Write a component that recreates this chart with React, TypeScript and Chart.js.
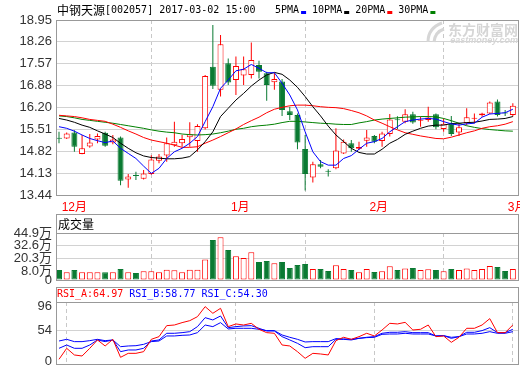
import React, { useEffect, useRef } from 'react';
import { Chart, registerables } from 'chart.js';

Chart.register(...registerables);

// ---------- data ----------
const stockName = '中钢天源';
const stockInfo = '[002057] 2017-03-02 15:00';
const maNames = ['5PMA', '10PMA', '20PMA', '30PMA'];
const maColors = ['#0000ff', '#000000', '#ff0000', '#008000'];

const openP = [15.23, 15.22, 15.41, 14.73, 14.97, 15.19, 15.40, 15.09, 15.25, 13.93, 14.05, 13.95, 14.10, 14.52, 14.68, 15.01, 15.07, 15.26, 15.14, 15.54, 17.48, 16.75, 17.59, 17.06, 17.20, 17.22, 17.53, 17.27, 16.99, 17.01, 16.08, 15.96, 14.89, 13.99, 14.41, 14.18, 14.28, 14.75, 15.07, 14.90, 15.15, 15.30, 15.14, 15.36, 15.80, 15.75, 15.98, 15.78, 15.80, 15.98, 15.52, 15.68, 15.41, 15.70, 15.84, 15.95, 16.01, 16.38, 16.03, 15.96];
const highP = [15.43, 15.41, 15.48, 15.33, 15.36, 15.38, 15.43, 15.33, 15.28, 14.10, 14.17, 14.23, 14.69, 14.73, 15.25, 15.75, 15.33, 15.73, 15.67, 17.22, 18.79, 18.48, 17.74, 17.80, 17.80, 18.24, 17.67, 17.32, 17.29, 17.09, 16.22, 16.01, 15.33, 14.49, 14.54, 14.25, 15.54, 15.19, 15.17, 15.12, 15.49, 15.33, 15.43, 15.99, 15.92, 16.14, 16.06, 15.91, 16.22, 16.01, 15.85, 15.93, 15.70, 16.17, 16.01, 16.03, 16.38, 16.45, 16.12, 16.33];
const lowP = [15.07, 15.20, 14.80, 14.72, 14.93, 15.07, 14.96, 15.04, 13.75, 13.67, 13.91, 13.93, 14.08, 14.44, 14.49, 14.96, 14.96, 14.96, 14.80, 15.50, 16.78, 16.54, 16.90, 16.59, 16.90, 17.11, 17.11, 16.41, 16.75, 15.93, 15.80, 14.88, 13.58, 13.83, 14.28, 14.02, 14.25, 14.73, 14.80, 14.86, 14.96, 15.07, 14.96, 15.28, 15.52, 15.70, 15.68, 15.59, 15.75, 15.51, 15.43, 15.30, 15.30, 15.64, 15.70, 15.90, 15.99, 15.91, 15.93, 15.91];
const closeP = [15.21, 15.38, 14.96, 14.91, 15.09, 15.30, 14.99, 15.19, 13.89, 14.02, 14.04, 14.12, 14.56, 14.65, 15.07, 15.12, 15.20, 15.35, 15.61, 17.19, 16.88, 18.19, 16.98, 17.50, 17.40, 17.69, 17.32, 16.90, 17.09, 16.12, 15.96, 15.09, 14.10, 14.41, 14.33, 14.17, 14.84, 15.12, 14.91, 14.95, 15.25, 15.12, 15.38, 15.82, 15.79, 15.98, 15.72, 15.80, 15.88, 15.57, 15.68, 15.36, 15.57, 15.89, 15.86, 16.01, 16.35, 15.96, 16.01, 16.25];

const ma5 = [15.59, 15.54, 15.45, 15.33, 15.22, 15.15, 15.09, 15.14, 14.91, 14.75, 14.59, 14.35, 14.12, 14.28, 14.59, 14.80, 14.91, 15.07, 15.28, 15.75, 16.22, 16.80, 17.06, 17.35, 17.40, 17.55, 17.43, 17.29, 17.29, 16.96, 16.59, 16.12, 15.43, 14.80, 14.49, 14.38, 14.38, 14.59, 14.68, 14.88, 15.07, 15.12, 15.22, 15.43, 15.59, 15.75, 15.80, 15.83, 15.85, 15.83, 15.75, 15.68, 15.64, 15.68, 15.70, 15.89, 15.99, 16.01, 16.03, 16.14];
const ma10 = [15.85, 15.80, 15.73, 15.64, 15.57, 15.46, 15.36, 15.25, 15.07, 14.91, 14.77, 14.67, 14.62, 14.60, 14.58, 14.58, 14.60, 14.65, 14.86, 15.12, 15.43, 15.91, 16.17, 16.43, 16.64, 16.87, 17.06, 17.22, 17.30, 17.24, 17.06, 16.83, 16.54, 16.22, 15.93, 15.61, 15.33, 15.12, 14.91, 14.78, 14.73, 14.73, 14.88, 15.07, 15.19, 15.35, 15.45, 15.54, 15.61, 15.64, 15.64, 15.69, 15.70, 15.72, 15.73, 15.77, 15.82, 15.83, 15.85, 15.91];
const ma20 = [15.95, 15.93, 15.91, 15.87, 15.82, 15.79, 15.76, 15.67, 15.57, 15.46, 15.36, 15.25, 15.17, 15.12, 15.07, 15.01, 14.94, 14.94, 14.96, 15.07, 15.17, 15.28, 15.40, 15.52, 15.66, 15.78, 15.89, 16.03, 16.14, 16.20, 16.25, 16.27, 16.27, 16.25, 16.22, 16.20, 16.19, 16.16, 16.10, 16.03, 15.93, 15.80, 15.70, 15.59, 15.49, 15.40, 15.35, 15.30, 15.26, 15.22, 15.21, 15.26, 15.33, 15.40, 15.46, 15.54, 15.59, 15.62, 15.67, 15.75];
const ma30 = [15.93, 15.91, 15.87, 15.82, 15.79, 15.76, 15.73, 15.70, 15.66, 15.62, 15.58, 15.54, 15.49, 15.45, 15.42, 15.40, 15.36, 15.34, 15.33, 15.34, 15.36, 15.40, 15.45, 15.51, 15.54, 15.59, 15.62, 15.64, 15.67, 15.72, 15.76, 15.76, 15.74, 15.72, 15.70, 15.69, 15.67, 15.66, 15.66, 15.71, 15.75, 15.80, 15.83, 15.85, 15.87, 15.89, 15.90, 15.91, 15.91, 15.90, 15.85, 15.78, 15.70, 15.62, 15.57, 15.53, 15.50, 15.48, 15.46, 15.45];

// volume in 万
const volume = [9.6, 7.3, 9.6, 7.3, 7.3, 7.3, 7.3, 7.3, 10.5, 7.3, 6.7, 8.3, 8.3, 7.3, 9.9, 9.2, 7.3, 9.9, 9.9, 19.7, 38.2, 40.8, 28.7, 22.6, 21.0, 26.4, 17.2, 18.1, 15.9, 17.2, 11.5, 14.3, 15.3, 10.5, 10.5, 8.6, 14.0, 10.5, 9.6, 7.3, 10.5, 7.6, 8.3, 13.1, 9.6, 11.1, 11.5, 9.6, 10.2, 9.6, 8.3, 10.5, 9.6, 11.1, 9.6, 10.5, 13.4, 12.4, 8.6, 10.5];

const rsiA = [4.1, 23.1, 11.6, 9.8, 23.1, 37.5, 27.1, 38.6, 7.5, 14.4, 14.4, 17.3, 38.6, 43.2, 62.2, 63.3, 67.4, 70.8, 77.7, 95.0, 83.5, 92.1, 60.5, 65.1, 63.3, 66.2, 55.9, 50.1, 49.0, 28.8, 27.1, 17.3, 5.8, 14.4, 13.3, 11.6, 36.3, 42.1, 38.6, 43.2, 49.0, 44.4, 54.7, 66.2, 65.1, 67.9, 54.7, 55.9, 63.3, 43.2, 44.4, 33.4, 42.1, 57.6, 57.6, 63.3, 74.3, 50.1, 50.1, 63.3];
const rsiB = [23.1, 28.8, 23.1, 23.1, 28.8, 37.5, 34.6, 37.5, 17.3, 20.2, 20.2, 23.1, 35.7, 37.5, 49.0, 49.0, 50.1, 51.8, 60.5, 76.0, 72.0, 78.9, 58.7, 60.5, 61.7, 62.2, 57.6, 53.0, 53.0, 43.2, 37.5, 31.7, 24.2, 25.9, 25.9, 25.9, 38.6, 38.6, 37.5, 40.3, 42.1, 43.2, 49.0, 50.7, 50.7, 51.8, 50.1, 50.1, 50.1, 44.4, 44.9, 40.3, 43.2, 50.7, 50.7, 53.6, 58.7, 50.1, 50.1, 55.9];
const rsiC = [35.7, 38.6, 34.6, 34.6, 36.3, 38.6, 36.3, 37.5, 25.9, 27.1, 27.6, 29.9, 34.6, 35.7, 44.4, 44.4, 45.5, 46.1, 50.1, 63.3, 60.5, 67.4, 56.5, 57.6, 57.6, 57.6, 55.9, 53.6, 53.6, 46.1, 42.1, 38.6, 34.0, 34.6, 34.6, 34.6, 39.8, 39.2, 38.6, 40.3, 41.5, 42.1, 47.2, 47.8, 47.8, 49.0, 47.8, 47.8, 47.8, 44.4, 44.9, 42.1, 43.2, 47.8, 47.8, 49.0, 51.8, 49.0, 49.0, 51.8];
const rsiNames = ['RSI_A', 'RSI_B', 'RSI_C'];
const rsiLatest = [64.97, 58.77, 54.30];
const rsiColors = ['#ff0000', '#0000ff', '#0000ff'];

const priceTicks = [13.44, 14.13, 14.82, 15.51, 16.20, 16.88, 17.57, 18.26, 18.95];
const volumeTicks = [0, 8.0, 20.3, 32.6, 44.9];
const volumeGridTicks = [20.3, 32.6];
const rsiTicks = [0, 54, 96];
const monthIndex = [1, 23, 41, 59];
const monthLabels = ['12月', '1月', '2月', '3月'];

// ---------- style ----------
const UP = '#ff0000';
const DOWN = '#0a7a32';
const FRAME = '#999999';
const GRID = '#d2d2d2';
const VGRID = '#c8c8c8';
const CLEAR = 'rgba(0,0,0,0)';
const X_MIN = -0.39;
const X_MAX = 59.8;
const AXIS_FONT = "'Liberation Sans', 'Noto Sans CJK SC', sans-serif";
const MONO_FONT = "'DejaVu Sans Mono', 'Liberation Mono', monospace";
const CJK_FONT = "'Noto Sans CJK SC', sans-serif";

const isUp = (i: number) => closeP[i] >= openP[i];

const zeroPad = (s: any) => {
  s.paddingTop = 0;
  s.paddingBottom = 0;
  s.paddingLeft = 0;
  s.paddingRight = 0;
};

const xScale = (showLabels: boolean) => ({
  type: 'linear',
  min: X_MIN,
  max: X_MAX,
  bounds: 'data',
  offset: false,
  afterBuildTicks: (s: any) => {
    s.ticks = monthIndex.map((v) => ({ value: v }));
  },
  afterFit: (s: any) => {
    s.height = showLabels ? 22 : 0;
    zeroPad(s);
  },
  grid: { color: VGRID, drawTicks: false, lineWidth: 1 },
  border: { display: false, dash: [4, 3] },
  ticks: {
    display: showLabels,
    autoSkip: false,
    maxRotation: 0,
    color: '#ff0000',
    font: { family: AXIS_FONT, size: 12 },
    padding: 5,
    align: 'start',
    labelOffset: -5,
    callback: (_v: any, i: number) => monthLabels[i],
  },
});

const yScale = (min: number, max: number, ticks: number[], fmt: (v: number) => string, gridColor: any) => ({
  type: 'linear',
  min,
  max,
  bounds: 'data',
  afterBuildTicks: (s: any) => {
    s.ticks = ticks.map((v) => ({ value: v }));
  },
  afterFit: (s: any) => {
    s.width = 56;
    zeroPad(s);
  },
  grid: { color: gridColor, drawTicks: false, lineWidth: 1 },
  border: { display: false },
  ticks: {
    autoSkip: false,
    padding: 4,
    color: '#333333',
    font: { family: AXIS_FONT, size: 13 },
    callback: (v: number) => fmt(v),
  },
});

const framePlugin = {
  id: 'frame',
  afterDraw(chart: any) {
    const { ctx, chartArea: a } = chart;
    ctx.save();
    ctx.strokeStyle = FRAME;
    ctx.lineWidth = 1;
    ctx.strokeRect(Math.round(a.left) + 0.5, Math.round(a.top) + 0.5, Math.round(a.right - a.left) - 1, Math.round(a.bottom - a.top));
    ctx.restore();
  },
};

const priceHeaderPlugin = {
  id: 'priceHeader',
  beforeDatasetsDraw(chart: any) {
    const { ctx, chartArea: a } = chart;
    ctx.save();
    ctx.fillStyle = '#d6d6d6';
    ctx.textBaseline = 'middle';
    ctx.textAlign = 'right';
    ctx.font = `bold 14px ${CJK_FONT}`;
    ctx.fillText('东方财富网', a.right - 1, 30);
    ctx.font = `italic bold 9px 'Liberation Sans', sans-serif`;
    ctx.fillText('eastmoney.com', a.right - 1, 41);
    ctx.strokeStyle = '#d6d6d6';
    ctx.lineWidth = 3;
    ctx.beginPath();
    ctx.moveTo(428, 42);
    ctx.quadraticCurveTo(428, 28, 442, 23);
    ctx.stroke();
    ctx.beginPath();
    ctx.moveTo(434, 42);
    ctx.quadraticCurveTo(435, 32, 444, 29);
    ctx.stroke();
    ctx.restore();
  },
  afterDraw(chart: any) {
    const { ctx } = chart;
    ctx.save();
    ctx.textBaseline = 'middle';
    ctx.textAlign = 'left';
    ctx.fillStyle = '#000';
    ctx.font = `12px ${CJK_FONT}`;
    let x = 57;
    ctx.fillText(stockName, x, 10);
    x += ctx.measureText(stockName).width;
    ctx.font = `10px ${MONO_FONT}`;
    ctx.fillText(stockInfo, x, 10);
    x = 275;
    maNames.forEach((n, k) => {
      ctx.fillStyle = '#000';
      ctx.fillText(n, x, 10);
      x += ctx.measureText(n).width + 2;
      ctx.fillStyle = maColors[k];
      ctx.fillRect(x, 11, 5, 3);
      x += 11;
    });
    ctx.restore();
  },
};

const volumeHeaderPlugin = {
  id: 'volumeHeader',
  afterDraw(chart: any) {
    const { ctx, chartArea: a } = chart;
    ctx.save();
    ctx.strokeStyle = FRAME;
    ctx.lineWidth = 1;
    ctx.strokeRect(Math.round(a.left) + 0.5, Math.round(a.top) - 18.5, Math.round(a.right - a.left) - 1, 19);
    ctx.fillStyle = '#000';
    ctx.textBaseline = 'middle';
    ctx.font = `12px ${CJK_FONT}`;
    ctx.fillText('成交量', a.left + 2, a.top - 9);
    ctx.restore();
  },
};

const rsiHeaderPlugin = {
  id: 'rsiHeader',
  afterDraw(chart: any) {
    const { ctx, chartArea: a } = chart;
    ctx.save();
    ctx.strokeStyle = FRAME;
    ctx.lineWidth = 1;
    ctx.strokeRect(Math.round(a.left) + 0.5, Math.round(a.top) - 14.5, Math.round(a.right - a.left) - 1, 15);
    ctx.textBaseline = 'middle';
    ctx.font = `10px ${MONO_FONT}`;
    let x = a.left + 1;
    rsiNames.forEach((n, k) => {
      const t = `${n}:${rsiLatest[k].toFixed(2)}`;
      ctx.fillStyle = rsiColors[k];
      ctx.fillText(t, x, a.top - 7.5);
      x += ctx.measureText(t).width + 6;
    });
    ctx.restore();
  },
};

const baseOptions = (padTop: number, padBottom: number) => ({
  responsive: false,
  animation: false,
  events: [],
  layout: { padding: { top: padTop, bottom: padBottom, left: 0, right: 1 } },
  plugins: { legend: { display: false }, tooltip: { enabled: false } },
});

export default function App() {
  const priceRef = useRef<HTMLCanvasElement>(null);
  const volRef = useRef<HTMLCanvasElement>(null);
  const rsiRef = useRef<HTMLCanvasElement>(null);

  useEffect(() => {
    const idx = openP.map((_, i) => i);
    const maSeries = [ma5, ma10, ma20, ma30];

    const price = new Chart(priceRef.current as HTMLCanvasElement, {
      type: 'bar',
      data: {
        datasets: [
          ...maSeries.map((arr, k) => ({
            type: 'line',
            label: maNames[k],
            data: arr.map((y, i) => ({ x: i, y })),
            borderColor: maColors[k],
            borderWidth: 1,
            pointRadius: 0,
            tension: 0,
            fill: false,
            order: 0,
          })),
          {
            type: 'bar',
            label: 'body',
            data: idx.map((i) => ({ x: i, y: [openP[i], closeP[i]] })),
            backgroundColor: idx.map((i) => (isUp(i) ? '#ffffff' : DOWN)),
            borderColor: idx.map((i) => (isUp(i) ? UP : DOWN)),
            borderWidth: 1,
            borderSkipped: false,
            barThickness: 6,
            minBarLength: 1,
            grouped: false,
            inflateAmount: 0,
            order: 1,
          },
          {
            type: 'bar',
            label: 'wick',
            data: idx.map((i) => ({ x: i, y: [lowP[i], highP[i]] })),
            backgroundColor: idx.map((i) => (isUp(i) ? UP : DOWN)),
            borderWidth: 0,
            barThickness: 1,
            grouped: false,
            inflateAmount: 0,
            order: 2,
          },
        ],
      } as any,
      options: {
        ...baseOptions(20, 0),
        scales: {
          x: xScale(true),
          y: yScale(13.44, 18.95, priceTicks, (v) => v.toFixed(2), GRID),
        },
      } as any,
      plugins: [framePlugin, priceHeaderPlugin],
    });

    const vol = new Chart(volRef.current as HTMLCanvasElement, {
      type: 'bar',
      data: {
        datasets: [
          {
            label: 'volume',
            data: volume.map((y, i) => ({ x: i, y })),
            backgroundColor: idx.map((i) => (isUp(i) ? '#ffffff' : DOWN)),
            borderColor: idx.map((i) => (isUp(i) ? UP : DOWN)),
            borderWidth: 1,
            borderSkipped: false,
            barThickness: 6,
            grouped: false,
            inflateAmount: 0,
          },
        ],
      } as any,
      options: {
        ...baseOptions(21, 10),
        scales: {
          x: xScale(false),
          y: yScale(0, 44.9, volumeTicks, (v) => (v === 0 ? '0' : `${v.toFixed(1)}万`), (c: any) =>
            c.tick && volumeGridTicks.includes(c.tick.value) ? GRID : CLEAR),
        },
      } as any,
      plugins: [framePlugin, volumeHeaderPlugin],
    });

    const rsiSeries = [rsiA, rsiB, rsiC];
    const rsi = new Chart(rsiRef.current as HTMLCanvasElement, {
      type: 'line',
      data: {
        datasets: rsiSeries.map((arr, k) => ({
          label: rsiNames[k],
          data: arr.map((y, i) => ({ x: i, y })),
          borderColor: rsiColors[k],
          borderWidth: 1,
          pointRadius: 0,
          tension: 0,
          fill: false,
          order: k === 0 ? 0 : 1,
        })),
      } as any,
      options: {
        ...baseOptions(18, 1),
        scales: {
          x: xScale(false),
          y: yScale(-4, 103, rsiTicks, (v) => String(v), (c: any) =>
            c.tick && c.tick.value === 54 ? GRID : CLEAR),
        },
      } as any,
      plugins: [framePlugin, rsiHeaderPlugin],
    });

    return () => {
      price.destroy();
      vol.destroy();
      rsi.destroy();
    };
  }, []);

  const abs = (top: number): React.CSSProperties => ({ position: 'absolute', left: 0, top });

  return (
    <div style={{ position: 'fixed', left: 0, top: 0, width: 520, height: 365, background: '#ffffff', overflow: 'hidden' }}>
      <canvas ref={priceRef} width={520} height={217} style={abs(0)} />
      <canvas ref={volRef} width={520} height={78} style={abs(212)} />
      <canvas ref={rsiRef} width={520} height={81} style={abs(284)} />
    </div>
  );
}
